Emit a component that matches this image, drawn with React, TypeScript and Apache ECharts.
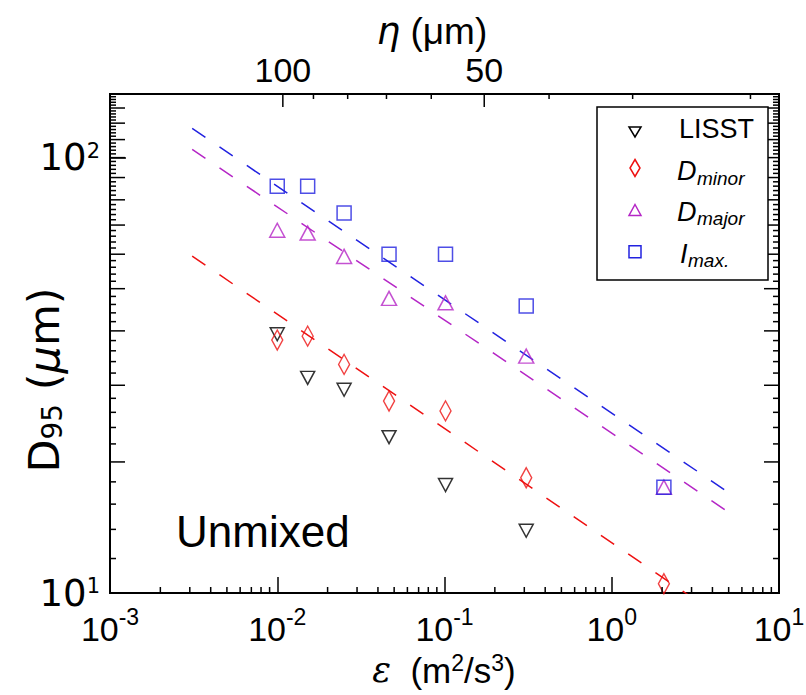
import React, { useEffect, useRef } from "react";
import * as echarts from "echarts";

// ---- data ----
const epsilon = [0.01, 0.0152, 0.0251, 0.0466, 0.1014, 0.308, 2.05];
const lisst = [39.3, 31.2, 29.3, 22.8, 17.7, 13.9];
const dMinor = [38.1, 38.9, 33.5, 27.6, 26.2, 18.4, 10.5];
const dMajor = [68.1, 67.1, 59.3, 47.5, 46.4, 35.0, 17.5];
const iMax = [85.9, 85.9, 74.6, 60.0, 60.0, 45.6, 17.5];

// fitted power laws (end points of the dashed lines)
const fitEpsilon = [0.0031, 4.9];
const fitIMax = [116.7, 17.1];
const fitDMajor = [104.5, 15.4];
const fitDMinor = [59.4, 8.6];

// axes
const xMin = 0.001;
const xMax = 10;
const yMin = 10;
const yMax = 140;
const xMinorMultipliers = [2, 3, 4, 5, 6, 7, 8, 9];
const xDecades = [0.001, 0.01, 0.1, 1];
const yTenTicks = [20, 30, 40, 50, 60, 70, 80, 90, 100, 110, 120, 130];
const ySmallTicks = [
  12, 14, 16, 18, 22, 24, 26, 28, 32, 34, 36, 38, 42, 44, 46, 48, 52, 54, 56, 58,
  62, 64, 66, 68, 72, 74, 76, 78, 82, 84, 86, 88, 92, 94, 96, 98, 102, 104, 106,
  108, 112, 114, 116, 118, 122, 124, 126, 128, 132, 134, 136, 138,
];
// top axis: Kolmogorov scale eta (um)
const etaTicks = [100, 90, 80, 70, 60, 50, 40, 30, 20];
const etaLabels = [100, 50];
const nu = 1.026e-6; // kinematic viscosity, m^2/s
const etaToEps = (eta: number) => Math.pow(nu, 3) / Math.pow(eta * 1e-6, 4);

const BLACK = "#000000";
const RED = "#ee1111";
const MAGENTA = "#b526c6";
const BLUE = "#2222e0";

const SANS = "'Liberation Sans', Arial, sans-serif";
const DEJAVU = "'DejaVu Sans', sans-serif";

function buildOption() {
  const ticks: number[][] = [];
  xDecades.forEach((d) =>
    xMinorMultipliers.forEach((m) => ticks.push([m * d, yMin, 6, 0, -1]))
  );
  yTenTicks.forEach((v) => {
    ticks.push([xMin, v, 15, 1, 0]);
    ticks.push([xMax, v, 15, -1, 0]);
  });
  ySmallTicks.forEach((v) => {
    ticks.push([xMin, v, 6, 1, 0]);
    ticks.push([xMax, v, 6, -1, 0]);
  });
  etaTicks.forEach((eta) => {
    const long = etaLabels.indexOf(eta) >= 0;
    ticks.push([etaToEps(eta), yMax, long ? 13 : 5, 0, 1]);
  });

  const decadeFormatter = (v: number) => {
    const l = Math.log10(v);
    const e = Math.round(l);
    if (Math.abs(l - e) > 1e-6) return "";
    return `{b|10}{s|${e}}`;
  };

  const hollow = (c: string) => ({
    color: "rgba(0,0,0,0)",
    borderColor: c,
    borderWidth: 1.5,
  });

  const pts = (vals: number[]) => vals.map((v, i) => [epsilon[i], v]);
  const fit = (vals: number[]) => vals.map((v, i) => [fitEpsilon[i], v]);

  return {
    animation: false,
    backgroundColor: "#ffffff",
    textStyle: { fontFamily: SANS, color: BLACK },
    grid: {
      left: 110,
      right: 27,
      top: 94,
      bottom: 102,
      show: true,
      borderColor: BLACK,
      borderWidth: 2,
      backgroundColor: "rgba(0,0,0,0)",
      containLabel: false,
      outerBoundsMode: "none",
    },
    xAxis: [
      {
        type: "log",
        logBase: 10,
        min: xMin,
        max: xMax,
        position: "bottom",
        axisLine: { show: true, lineStyle: { color: BLACK, width: 2 } },
        axisTick: { show: true, inside: true, length: 16, lineStyle: { color: BLACK, width: 1.5 } },
        minorTick: { show: false },
        splitLine: { show: false },
        axisLabel: {
          show: true,
          margin: 12,
          color: BLACK,
          formatter: decadeFormatter,
          rich: {
            b: { fontFamily: SANS, fontSize: 34, color: BLACK, verticalAlign: "middle" },
            s: { fontFamily: SANS, fontSize: 23, color: BLACK, padding: [0, 0, 24, 0], verticalAlign: "middle" },
          },
        },
      },
    ],
    yAxis: [
      {
        type: "log",
        logBase: 10,
        min: yMin,
        max: yMax,
        axisLine: { show: true, lineStyle: { color: BLACK, width: 2 } },
        axisTick: { show: true, inside: true, length: 16, lineStyle: { color: BLACK, width: 1.5 } },
        minorTick: { show: false },
        splitLine: { show: false },
        axisLabel: {
          show: true,
          margin: 10,
          color: BLACK,
          formatter: decadeFormatter,
          rich: {
            b: { fontFamily: DEJAVU, fontSize: 37, color: BLACK, verticalAlign: "middle" },
            s: { fontFamily: DEJAVU, fontSize: 21, color: BLACK, padding: [0, 0, 14, 0], verticalAlign: "middle" },
          },
        },
      },
    ],
    series: [
      {
        type: "custom",
        name: "ticks",
        silent: true,
        clip: false,
        data: ticks,
        renderItem: (params: any, api: any) => {
          const p = api.coord([api.value(0), api.value(1)]);
          const len = api.value(2);
          const dx = api.value(3);
          const dy = api.value(4);
          return {
            type: "line",
            shape: { x1: p[0], y1: p[1], x2: p[0] + dx * len, y2: p[1] + dy * len },
            style: { stroke: BLACK, lineWidth: 1.5 },
          };
        },
        z: 5,
      },
      {
        type: "custom",
        name: "etaLabels",
        silent: true,
        clip: false,
        data: etaLabels.map((eta) => [etaToEps(eta), yMax, eta]),
        renderItem: (params: any, api: any) => {
          const p = api.coord([api.value(0), api.value(1)]);
          return {
            type: "text",
            style: {
              text: String(api.value(2)),
              x: p[0],
              y: p[1] - 24,
              font: `34px ${SANS}`,
              fill: BLACK,
              align: "center",
              verticalAlign: "middle",
              textAlign: "center",
              textVerticalAlign: "middle",
            },
          };
        },
        z: 5,
      },
      {
        type: "line",
        name: "fit Imax",
        data: fit(fitIMax),
        symbol: "none",
        clip: true,
        silent: true,
        lineStyle: { color: BLUE, width: 1.5, type: [16, 17] },
        z: 2,
      },
      {
        type: "line",
        name: "fit Dmajor",
        data: fit(fitDMajor),
        symbol: "none",
        clip: true,
        silent: true,
        lineStyle: { color: MAGENTA, width: 1.5, type: [16, 17] },
        z: 2,
      },
      {
        type: "line",
        name: "fit Dminor",
        data: fit(fitDMinor),
        symbol: "none",
        clip: true,
        silent: true,
        lineStyle: { color: RED, width: 1.5, type: [16, 17] },
        z: 2,
      },
      {
        type: "scatter",
        name: "LISST",
        data: pts(lisst),
        symbol: "triangle",
        symbolRotate: 180,
        symbolSize: [14, 13],
        itemStyle: hollow(BLACK),
        emphasis: { disabled: true },
        z: 3,
      },
      {
        type: "scatter",
        name: "Dminor",
        data: pts(dMinor),
        symbol: "diamond",
        symbolSize: [11, 20],
        itemStyle: hollow(RED),
        emphasis: { disabled: true },
        z: 3,
      },
      {
        type: "scatter",
        name: "Dmajor",
        data: pts(dMajor),
        symbol: "triangle",
        symbolSize: [15, 14],
        itemStyle: hollow(MAGENTA),
        emphasis: { disabled: true },
        z: 3,
      },
      {
        type: "scatter",
        name: "Imax",
        data: pts(iMax),
        symbol: "rect",
        symbolSize: [14, 14],
        itemStyle: hollow(BLUE),
        emphasis: { disabled: true },
        z: 3,
      },
    ],
    graphic: [
      // legend box
      {
        type: "rect",
        shape: { x: 597, y: 107, width: 171, height: 173 },
        style: { fill: "#ffffff", stroke: BLACK, lineWidth: 1.5 },
        z: 10,
      },
      {
        type: "polygon",
        shape: { points: [[629, 127], [641, 127], [635, 137]] },
        style: { fill: "none", stroke: BLACK, lineWidth: 1.5 },
        z: 11,
      },
      {
        type: "polygon",
        shape: { points: [[635, 159.5], [640, 168], [635, 176.5], [630, 168]] },
        style: { fill: "none", stroke: RED, lineWidth: 1.5 },
        z: 11,
      },
      {
        type: "polygon",
        shape: { points: [[635, 204.5], [641, 215.5], [629, 215.5]] },
        style: { fill: "none", stroke: MAGENTA, lineWidth: 1.5 },
        z: 11,
      },
      {
        type: "rect",
        shape: { x: 629, y: 245.7, width: 12, height: 12 },
        style: { fill: "none", stroke: BLUE, lineWidth: 1.5 },
        z: 11,
      },
      {
        type: "text",
        style: { text: "LISST", x: 679, y: 128.6, font: `27px ${SANS}`, fill: BLACK, textAlign: "left", textVerticalAlign: "middle" },
        z: 11,
      },
      {
        type: "text",
        style: { text: "D", x: 677, y: 170.9, font: `italic 27px ${SANS}`, fill: BLACK, textAlign: "left", textVerticalAlign: "middle" },
        z: 11,
      },
      {
        type: "text",
        style: { text: "minor", x: 697, y: 178.4, font: `italic 19px ${SANS}`, fill: BLACK, textAlign: "left", textVerticalAlign: "middle" },
        z: 11,
      },
      {
        type: "text",
        style: { text: "D", x: 677, y: 211.6, font: `italic 27px ${SANS}`, fill: BLACK, textAlign: "left", textVerticalAlign: "middle" },
        z: 11,
      },
      {
        type: "text",
        style: { text: "major", x: 697, y: 218.4, font: `italic 19px ${SANS}`, fill: BLACK, textAlign: "left", textVerticalAlign: "middle" },
        z: 11,
      },
      {
        type: "text",
        style: { text: "I", x: 680, y: 254.2, font: `italic 27px ${SANS}`, fill: BLACK, textAlign: "left", textVerticalAlign: "middle" },
        z: 11,
      },
      {
        type: "text",
        style: { text: "max.", x: 688, y: 260.4, font: `italic 19px ${SANS}`, fill: BLACK, textAlign: "left", textVerticalAlign: "middle" },
        z: 11,
      },
      // panel annotation
      {
        type: "text",
        style: { text: "Unmixed", x: 176, y: 531.6, font: `44px ${SANS}`, fill: BLACK, textAlign: "left", textVerticalAlign: "middle" },
        z: 11,
      },
      // top axis title
      {
        type: "text",
        style: {
          text: "{e|η}{n| (μm)}",
          x: 432,
          y: 31,
          fill: BLACK,
          textAlign: "center",
          textVerticalAlign: "middle",
          rich: {
            e: { fontFamily: DEJAVU, fontStyle: "italic", fontSize: 37, fill: BLACK },
            n: { fontFamily: SANS, fontSize: 37, fill: BLACK },
          },
        },
        z: 11,
      },
      // bottom axis title
      {
        type: "text",
        style: {
          text: "{e|ε}{n|  (m}{s|2}{n|/s}{s|3}{n|)}",
          x: 444,
          y: 670,
          fill: BLACK,
          textAlign: "center",
          textVerticalAlign: "middle",
          rich: {
            e: { fontFamily: "'DejaVu Serif', serif", fontStyle: "italic", fontSize: 35, fill: BLACK },
            n: { fontFamily: SANS, fontSize: 35, fill: BLACK },
            s: { fontFamily: SANS, fontSize: 23, fill: BLACK, padding: [0, 0, 14, 0] },
          },
        },
        z: 11,
      },
      // left axis title
      {
        type: "text",
        x: 44,
        y: 380,
        rotation: Math.PI / 2,
        style: {
          text: "{d|D}{sub|95}{n| (}{mu|μ}{n|m)}",
          x: 0,
          y: 0,
          fill: BLACK,
          textAlign: "center",
          textVerticalAlign: "middle",
          rich: {
            d: { fontFamily: DEJAVU, fontSize: 43, fill: BLACK },
            sub: { fontFamily: DEJAVU, fontSize: 28, fill: BLACK, padding: [16, 0, 0, 0] },
            n: { fontFamily: DEJAVU, fontSize: 43, fill: BLACK },
            mu: { fontFamily: DEJAVU, fontStyle: "italic", fontSize: 43, fill: BLACK },
          },
        },
        z: 11,
      },
    ],
  };
}

export default function App() {
  const ref = useRef<HTMLDivElement>(null);
  useEffect(() => {
    if (!ref.current) return;
    const chart = echarts.init(ref.current, null, { renderer: "svg" });
    chart.setOption(buildOption() as any);
    return () => chart.dispose();
  }, []);
  return (
    <div
      ref={ref}
      style={{ position: "absolute", left: 0, top: 0, width: 806, height: 695, background: "#ffffff" }}
    />
  );
}
